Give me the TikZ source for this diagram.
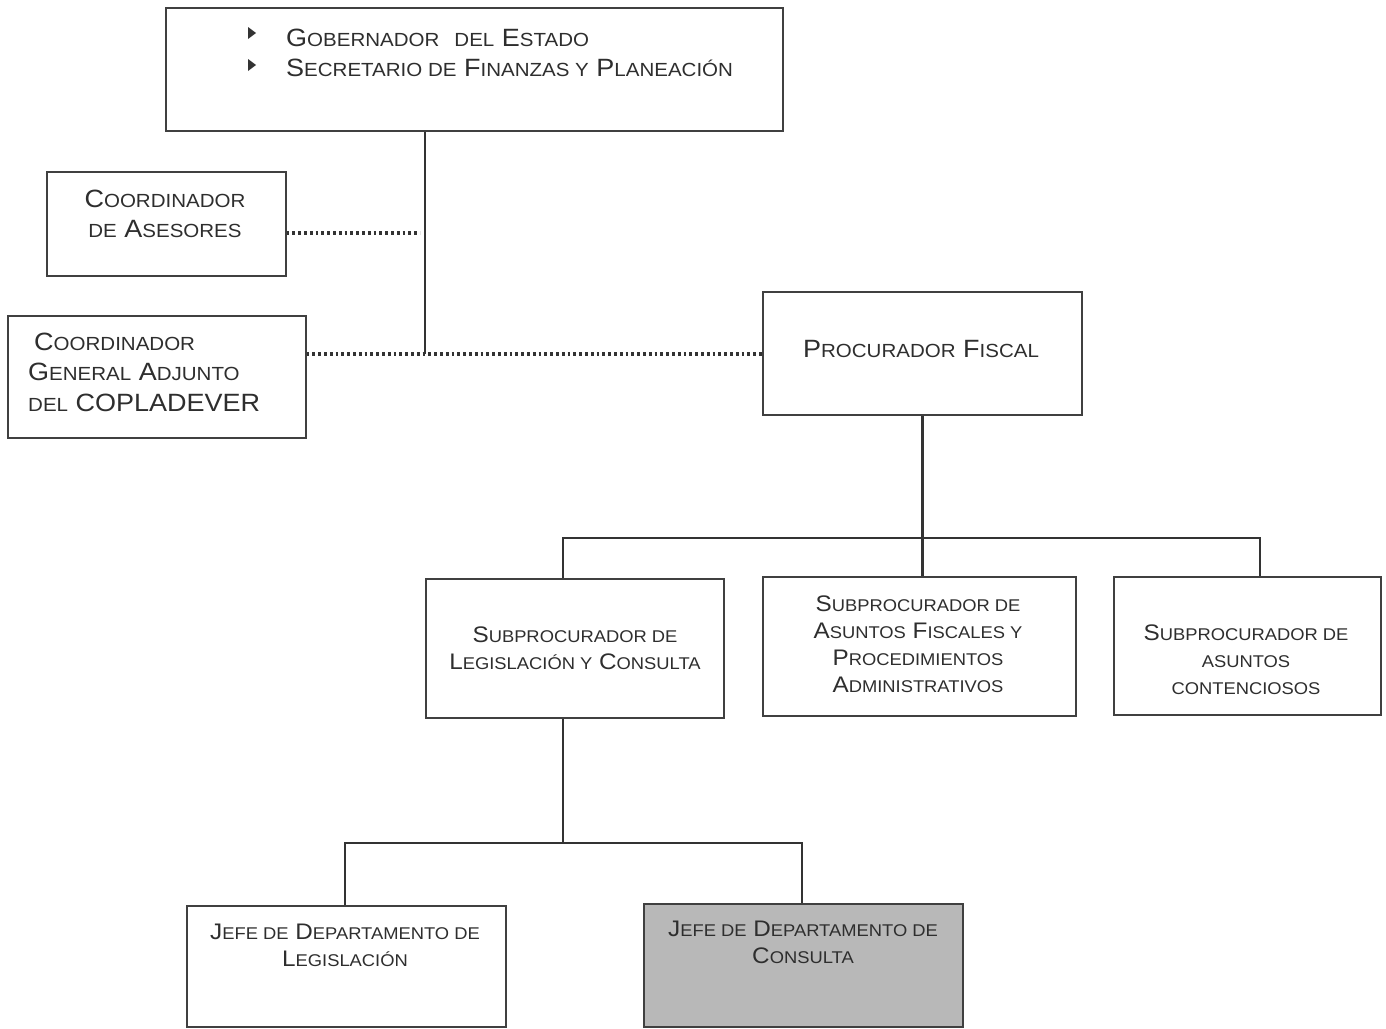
\documentclass[tikz,border=0pt]{standalone}
\usepackage{fontspec}
\setmainfont{Liberation Sans}[FakeStretch=1.08]
\newcommand\smsz{15}
\newcommand\sm[1]{{\fontsize{\smsz}{\smsz}\selectfont #1}}
\begin{document}
\begin{tikzpicture}[x=1pt,y=-1pt,
  box/.style={draw=black!75, line width=1.6pt, inner sep=0pt, anchor=north west},
  txt/.style={text=black!82, align=center, inner sep=0pt},
  big/.style={font={\fontsize{25}{30.5}\selectfont\def\smsz{19}}},
  med/.style={font={\fontsize{22.5}{27}\selectfont\def\smsz{17}}},
  conn/.style={line width=2.8pt, draw=black!80},
  dotl/.style={line width=3.2pt, draw=black!80, dash pattern=on 2.8pt off 3pt}
]
\useasboundingbox (0,0) rectangle (1386,1028);

% boxes
\node[box, minimum width=617pt, minimum height=123pt] (top) at (165,7) {};
\node[box, minimum width=239pt, minimum height=104pt] (ase) at (46,171) {};
\node[box, minimum width=298pt, minimum height=122pt] (cg) at (7,315) {};
\node[box, minimum width=319pt, minimum height=123pt] (pf) at (762,291) {};
\node[box, minimum width=298pt, minimum height=139pt] (sl) at (425,578) {};
\node[box, minimum width=313pt, minimum height=139pt] (fis) at (762,576) {};
\node[box, minimum width=267pt, minimum height=138pt] (sc) at (1113,576) {};
\node[box, minimum width=319pt, minimum height=121pt] (jl) at (186,905) {};
\node[box, minimum width=319pt, minimum height=123pt, fill=black!28] (jc) at (643,903) {};

% texts
\fill[black!80] (248,27) -- (256,33) -- (248,39) -- cycle;
\fill[black!80] (248,59) -- (256,65) -- (248,71) -- cycle;
\node[txt, big, align=left, anchor=west] (topt) at (286,53)
  {G\sm{OBERNADOR}\ \ \sm{DEL} E\sm{STADO}\\
   S\sm{ECRETARIO DE} F\sm{INANZAS Y} P\sm{LANEACIÓN}};
\node[txt, big] (aset) at (165,214) {C\sm{OORDINADOR}\\ \sm{DE} A\sm{SESORES}};
\node[txt, big, align=left, anchor=west] (cgt) at (28,372)
  {\hspace{6pt}C\sm{OORDINADOR}\\ G\sm{ENERAL} A\sm{DJUNTO}\\ \sm{DEL} COPLADEVER};
\node[txt, big] (pft) at (921,349) {P\sm{ROCURADOR} F\sm{ISCAL}};
\node[txt, med] (slt) at (575,648) {S\sm{UBPROCURADOR DE}\\ L\sm{EGISLACIÓN Y} C\sm{ONSULTA}};
\node[txt, med] (fist) at (918,644) {S\sm{UBPROCURADOR DE}\\ A\sm{SUNTOS} F\sm{ISCALES Y}\\ P\sm{ROCEDIMIENTOS}\\ A\sm{DMINISTRATIVOS}};
\node[txt, med] (sct) at (1246,660) {S\sm{UBPROCURADOR DE}\\ \sm{ASUNTOS}\\ \sm{CONTENCIOSOS}};
\node[txt, med] (jlt) at (345,945) {J\sm{EFE DE} D\sm{EPARTAMENTO DE}\\ L\sm{EGISLACIÓN}};
\node[txt, med] (jct) at (803,942) {J\sm{EFE DE} D\sm{EPARTAMENTO DE}\\ C\sm{ONSULTA}};

% connectors
\coordinate (j1) at (425,354);
\coordinate (ja) at (420,233);
\coordinate (b1) at (563,538);
\coordinate (b2) at (1260,538);
\coordinate (cm) at (563,843);
\coordinate (c1) at (345,843);
\coordinate (c2) at (802,843);
\draw[conn] (top.south -| j1) -- (j1);
\draw[dotl] (ase.east |- ja) -- (ja);
\draw[dotl] (cg.east |- j1) -- (pf.west |- j1);
\draw[conn] (pf.south) -- (pf.south |- fis.north);
\draw[conn] (b1 |- sl.north) -- (b1) -- (b2) -- (b2 |- sc.north);
\draw[conn] (cm |- sl.south) -- (cm);
\draw[conn] (c1 |- jl.north) -- (c1) -- (c2) -- (c2 |- jc.north);
\end{tikzpicture}
\end{document}
